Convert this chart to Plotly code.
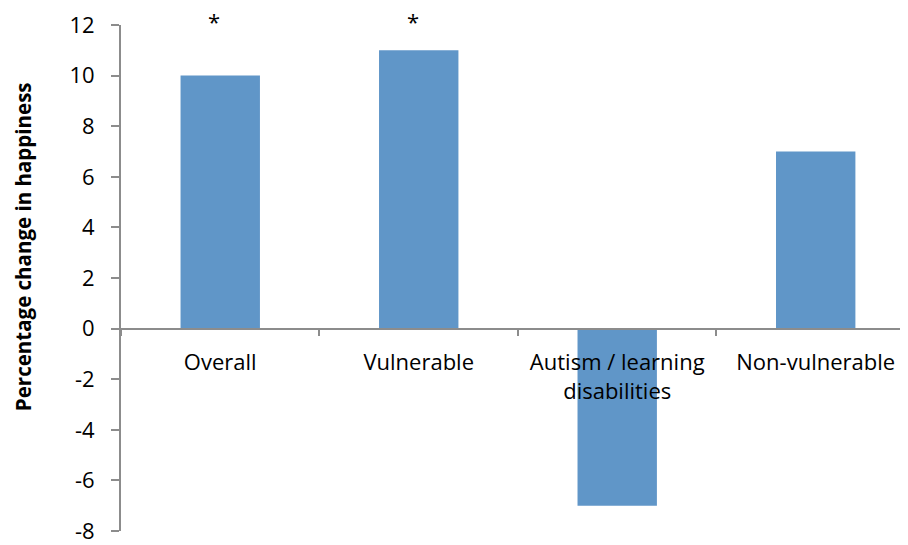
import plotly.graph_objects as go

categories = ["Overall", "Vulnerable", "Autism / learning<br>disabilities", "Non-vulnerable"]
values = [10, 11, -7, 7]
significant = [True, True, False, False]
y_ticks = [-8, -6, -4, -2, 0, 2, 4, 6, 8, 10, 12]
y_tick_labels = ["-8", "-6", "-4", "-2", "0", "2", "4", "6", "8", "10", "12"]

FONT = "Open Sans"
AXIS_COLOR = "#8c8c8c"
BAR_COLOR = "#6096c8"

fig = go.Figure()
fig.add_trace(go.Bar(
    x=categories, y=values, width=0.4,
    marker=dict(color=BAR_COLOR, line=dict(width=0)),
    showlegend=False,
))

for cat, sig in zip(categories, significant):
    if sig:
        fig.add_annotation(x=cat, xref="x", y=1.008, yref="y domain", text="*",
                           showarrow=False, xshift=-6,
                           font=dict(family=FONT, size=22, color="#000"),
                           yanchor="middle")

fig.add_annotation(text="<b>Percentage change in happiness</b>", textangle=-90,
                   xref="paper", yref="paper", x=-0.1245, y=0.561,
                   xanchor="center", yanchor="middle", showarrow=False,
                   font=dict(family=FONT, size=20.5, color="#000"))

fig.update_layout(
    width=900, height=537,
    margin=dict(l=113, r=0, t=17, b=14),
    plot_bgcolor="white", paper_bgcolor="white",
    font=dict(family=FONT, size=22, color="#000"),
)
fig.update_xaxes(
    type="category",
    range=[-0.5, 3.465],
    anchor="free", position=0.4,
    showline=True, linecolor=AXIS_COLOR, linewidth=2,
    ticks="outside", tickson="boundaries", ticklen=6, tickcolor=AXIS_COLOR, tickwidth=2,
    ticklabelstandoff=14,
    showgrid=False, zeroline=False,
    tickfont=dict(family=FONT, size=22, color="#000"),
)
fig.update_yaxes(
    range=[-8, 12], tickvals=y_ticks, ticktext=y_tick_labels,
    showline=True, linecolor=AXIS_COLOR, linewidth=2,
    ticks="outside", ticklen=8, tickcolor=AXIS_COLOR, tickwidth=2,
    ticklabelstandoff=12,
    showgrid=False, zeroline=False,
    tickfont=dict(family=FONT, size=22, color="#000"),
)

fig.write_html("out.html")
